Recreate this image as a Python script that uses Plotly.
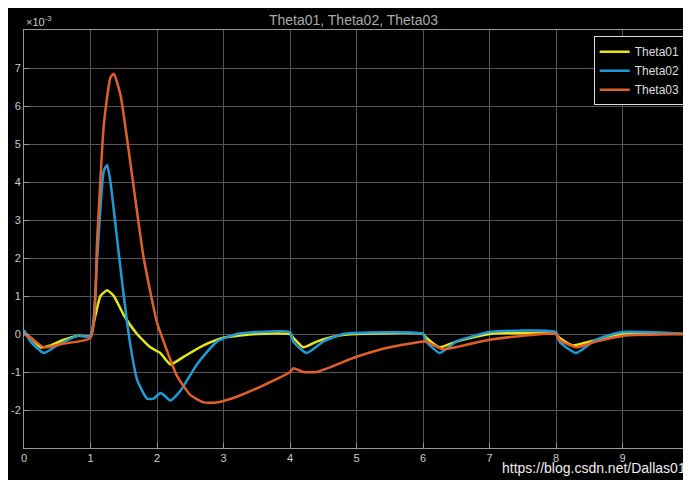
import plotly.graph_objects as go

x1 = [0, 0.1, 0.25, 0.4, 0.6, 0.8, 1.0, 1.05, 1.15, 1.25, 1.35, 1.5, 1.7, 1.9, 2.0, 2.05, 2.2, 2.4, 2.7, 3.0, 3.5,
      4.0, 4.05, 4.2, 4.4, 4.7, 5.0, 6.0, 6.05, 6.25, 6.5, 7.0, 8.0, 8.05, 8.25, 8.5, 9.0, 10.0]
theta01 = [0.05, -0.1, -0.35, -0.3, -0.15, -0.05, -0.05, 0.3, 1.0, 1.15, 1.0, 0.5, 0.0, -0.35, -0.45, -0.5, -0.8, -0.6,
           -0.3, -0.1, 0.0, 0.0, -0.1, -0.35, -0.2, -0.05, 0.0, 0.0, -0.1, -0.35, -0.2, 0.0, 0.0, -0.1, -0.3, -0.2, 0.0, 0.0]

x2 = [0, 0.1, 0.3, 0.5, 0.8, 1.0, 1.1, 1.2, 1.25, 1.3, 1.4, 1.5, 1.6, 1.7, 1.85, 1.95, 2.05, 2.1, 2.2, 2.35, 2.6, 2.9,
      3.2, 4.0, 4.05, 4.25, 4.5, 4.8, 6.0, 6.05, 6.25, 6.5, 7.0, 8.0, 8.05, 8.3, 8.6, 9.0, 10.0]
theta02 = [0.1, -0.2, -0.5, -0.3, -0.05, -0.05, 2.0, 4.3, 4.45, 4.0, 2.5, 1.0, -0.3, -1.2, -1.7, -1.7, -1.55, -1.6,
           -1.75, -1.5, -0.8, -0.2, 0.0, 0.05, -0.2, -0.5, -0.2, 0.0, 0.0, -0.2, -0.5, -0.2, 0.05, 0.05, -0.2, -0.5,
           -0.15, 0.05, 0.0]

x3 = [0, 0.1, 0.3, 0.6, 1.0, 1.1, 1.2, 1.3, 1.35, 1.45, 1.6, 1.8, 2.0, 2.1, 2.3, 2.5, 2.7, 2.9, 3.2, 3.6, 4.0, 4.05,
      4.2, 4.4, 5.0, 5.5, 6.0, 6.05, 6.3, 7.0, 8.0, 8.05, 8.3, 8.6, 9.0, 10.0]
theta03 = [0.0, -0.1, -0.35, -0.25, -0.1, 2.5, 5.5, 6.75, 6.85, 6.3, 4.5, 2.0, 0.3, -0.2, -1.1, -1.6, -1.8, -1.8,
           -1.65, -1.35, -1.0, -0.9, -1.0, -1.0, -0.6, -0.35, -0.2, -0.2, -0.4, -0.15, 0.0, -0.15, -0.35, -0.2,
           -0.05, 0.0]

fig = go.Figure()
for name, xs, ys, col in [("Theta01", x1, theta01, "#e6e619"), ("Theta02", x2, theta02, "#1e9bd7"),
                          ("Theta03", x3, theta03, "#e0602a")]:
    fig.add_trace(go.Scatter(x=xs, y=[v * 1e-3 for v in ys], name=name, mode="lines",
                             line=dict(color=col, width=2.5, shape="spline", smoothing=0.5)))

axis = dict(showgrid=True, gridcolor="#555555", zeroline=False, showline=True, linecolor="#999999",
            mirror=True, ticks="inside", tickcolor="#999999", tickfont=dict(color="#cccccc", size=11),
            automargin=False)
fig.update_xaxes(range=[0, 10], dtick=1, **axis)
fig.update_yaxes(range=[-3e-3, 8e-3], tickvals=[i * 1e-3 for i in range(-2, 8)],
                 ticktext=[str(i) for i in range(-2, 8)], ticklabelstandoff=0, **axis)
fig.update_layout(
    width=691, height=480, paper_bgcolor="black", plot_bgcolor="black",
    font=dict(family="Liberation Sans", color="#cccccc"),
    title=dict(text="Theta01, Theta02, Theta03", x=0.5, y=0.985, font=dict(size=14, color="#aaaaaa")),
    margin=dict(l=16, r=10, t=22, b=40),
    legend=dict(x=0.995, y=0.985, xanchor="right", yanchor="top", bgcolor="black",
                bordercolor="#dddddd", borderwidth=1, font=dict(size=12, color="#dddddd")),
    showlegend=True,
)
fig.add_annotation(text="×10<sup>-3</sup>", xref="paper", yref="paper", x=0, y=1.0, xanchor="left",
                   yanchor="bottom", showarrow=False, font=dict(size=11, color="#cccccc"))
fig.add_annotation(text="https://blog.csdn.net/Dallas01", xref="paper", yref="paper", x=0.998, y=-0.025,
                   xanchor="right", yanchor="top", showarrow=False, font=dict(size=14, color="#eeeeee"))
fig.write_html("out.html")
